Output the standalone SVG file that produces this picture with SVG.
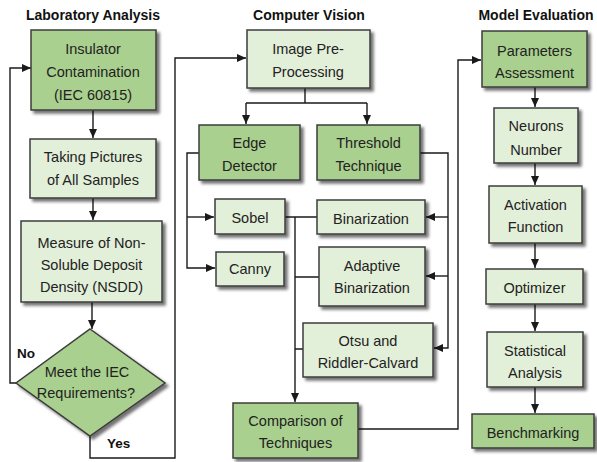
<svg xmlns="http://www.w3.org/2000/svg" width="597" height="462" viewBox="0 0 597 462">
<defs>
<filter id="sh" x="-20%" y="-20%" width="150%" height="150%">
<feDropShadow dx="3" dy="3" stdDeviation="1.6" flood-color="#000" flood-opacity="0.55"/>
</filter>
<marker id="ar" markerWidth="10" markerHeight="10" refX="9" refY="5" orient="auto" markerUnits="userSpaceOnUse">
<path d="M0,1 L9,5 L0,9 Z" fill="#1a1a1a"/>
</marker>
<style>
.dk{fill:#a9d08e;stroke:#3c3c3c;stroke-width:1.5;filter:url(#sh)}
.lt{fill:#e2efd9;stroke:#3c3c3c;stroke-width:1.5;filter:url(#sh)}
text{font-family:"Liberation Sans",Arial,sans-serif;font-size:14.5px;fill:#222;text-anchor:middle}
.ttl{font-weight:bold;font-size:14px;fill:#111}
.lbl{font-weight:bold;font-size:13.5px;fill:#111;text-anchor:start}
.c{fill:none;stroke:#1a1a1a;stroke-width:1.4}
.a{marker-end:url(#ar)}
</style>
</defs>
<text class="ttl" x="93" y="20">Laboratory Analysis</text>
<text class="ttl" x="309" y="20">Computer Vision</text>
<text class="ttl" x="536" y="20">Model Evaluation</text>

<g id="connectors">
<path class="c a" d="M93,110 V138"/>
<path class="c a" d="M93,198 V220"/>
<path class="c a" d="M92,302 V329"/>
<path class="c a" d="M16,383 H10 V68 H31"/>
<path class="c a" d="M90,436 V458 H175 V58 H246"/>
<path class="c" d="M305,88 V103 M246,103 H367"/>
<path class="c a" d="M246,103 V124"/>
<path class="c a" d="M367,103 V124"/>
<path class="c a" d="M199,153 H187 V268 H215"/>
<path class="c a" d="M187,217 H214"/>
<path class="c a" d="M420,153 H448 V348 H434"/>
<path class="c a" d="M448,217 H426"/>
<path class="c a" d="M448,276 H426"/>
<path class="c" d="M285,217 H317 M295,277 H319 M295,349 H303"/>
<path class="c a" d="M295,217 V402"/>
<path class="c a" d="M358,429 H458 V60 H481"/>
<path class="c a" d="M535,87 V107"/>
<path class="c a" d="M535,163 V185"/>
<path class="c a" d="M535,243 V268"/>
<path class="c a" d="M535,304 V331"/>
<path class="c a" d="M535,387 V413"/>
</g>

<g id="insulator"><rect class="dk" x="31" y="30" width="125" height="80"/>
<text x="93" y="54">Insulator</text><text x="93" y="77">Contamination</text><text x="93" y="100">(IEC 60815)</text></g>
<g id="pictures"><rect class="lt" x="30" y="139" width="126" height="59"/>
<text x="93" y="162">Taking Pictures</text><text x="93" y="185">of All Samples</text></g>
<g id="measure"><rect class="lt" x="21" y="221" width="141" height="81"/>
<text x="91.5" y="248">Measure of Non-</text><text x="91.5" y="270">Soluble Deposit</text><text x="91.5" y="292">Density (NSDD)</text></g>
<g id="decision"><polygon class="dk" points="90,329 165,383 90,436 16,383"/>
<text x="87" y="377">Meet the IEC</text><text x="86" y="398">Requirements?</text></g>
<text class="lbl" x="17" y="358">No</text>
<text class="lbl" x="107" y="448">Yes</text>

<g id="preprocessing"><rect class="lt" x="247" y="30" width="123" height="58"/>
<text x="308" y="54">Image Pre-</text><text x="308" y="77">Processing</text></g>
<g id="edge"><rect class="dk" x="199" y="125" width="101" height="55"/>
<text x="249.5" y="148">Edge</text><text x="249.5" y="171">Detector</text></g>
<g id="threshold"><rect class="dk" x="317" y="125" width="103" height="55"/>
<text x="368.5" y="148">Threshold</text><text x="368.5" y="171">Technique</text></g>
<g id="sobel"><rect class="lt" x="215" y="199" width="70" height="35"/>
<text x="250" y="223">Sobel</text></g>
<g id="canny"><rect class="lt" x="216" y="252" width="68" height="34"/>
<text x="250" y="274">Canny</text></g>
<g id="binarization"><rect class="lt" x="317" y="200" width="108" height="34"/>
<text x="371" y="224">Binarization</text></g>
<g id="adaptive"><rect class="lt" x="319" y="247" width="106" height="59"/>
<text x="372" y="271">Adaptive</text><text x="372" y="293">Binarization</text></g>
<g id="otsu"><rect class="lt" x="303" y="323" width="130" height="54"/>
<text x="368" y="346">Otsu and</text><text x="368" y="368">Riddler-Calvard</text></g>
<g id="comparison"><rect class="dk" x="233" y="403" width="125" height="55"/>
<text x="295.5" y="426">Comparison of</text><text x="295.5" y="448">Techniques</text></g>

<g id="parameters"><rect class="dk" x="482" y="31" width="105" height="56"/>
<text x="534.5" y="56">Parameters</text><text x="534.5" y="78">Assessment</text></g>
<g id="neurons"><rect class="lt" x="494" y="108" width="84" height="55"/>
<text x="536" y="131">Neurons</text><text x="536" y="155">Number</text></g>
<g id="activation"><rect class="lt" x="489" y="186" width="93" height="57"/>
<text x="535.5" y="210">Activation</text><text x="535.5" y="232">Function</text></g>
<g id="optimizer"><rect class="lt" x="486" y="269" width="97" height="35"/>
<text x="534.5" y="293">Optimizer</text></g>
<g id="statistical"><rect class="lt" x="487" y="332" width="96" height="55"/>
<text x="535" y="356">Statistical</text><text x="535" y="378">Analysis</text></g>
<g id="benchmarking"><rect class="dk" x="472" y="414" width="122" height="34"/>
<text x="533" y="438">Benchmarking</text></g>
</svg>
